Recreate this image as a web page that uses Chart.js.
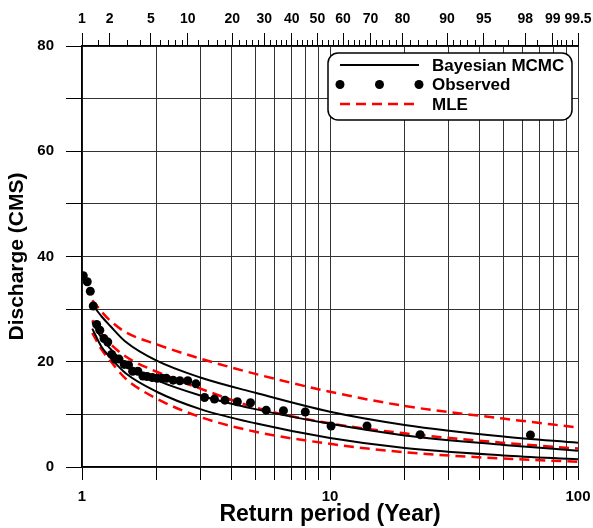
<!DOCTYPE html>
<html>
<head>
<meta charset="utf-8">
<script src="https://cdn.jsdelivr.net/npm/chart.js@4.4.1/dist/chart.umd.min.js"></script>
<style>
  html, body { margin: 0; padding: 0; background: #fff; }
  #wrap { width: 593px; height: 528px; }
</style>
</head>
<body>
<div id="wrap"><canvas id="freqChart" width="593" height="528"></canvas></div>
<script>
const curveT = [1.1, 1.2, 1.3, 1.5, 2, 3, 5, 10, 20, 50, 100];

// Bayesian MCMC: upper bound, median, lower bound (CMS)
const bayesUpper  = [30.9, 28.6, 26.8, 23.8, 20.2, 17.0, 14.1, 10.5, 8.0, 5.8, 4.6];
const bayesMedian = [27.5, 24.5, 22.5, 19.6, 16.5, 13.6, 11.0, 8.2, 6.0, 4.2, 3.1];
const bayesLower  = [26.3, 22.8, 20.8, 17.8, 14.3, 11.0, 8.3, 5.5, 3.6, 2.2, 1.45];

// MLE: upper bound, estimate, lower bound (CMS)
const mleUpper  = [31.7, 29.5, 27.8, 25.6, 23.3, 20.6, 17.7, 14.3, 11.6, 9.2, 7.5];
const mleMedian = [27.9, 25.3, 23.4, 21.0, 18.1, 14.9, 11.3, 8.3, 6.4, 4.6, 3.5];
const mleLower  = [25.5, 22.3, 20.2, 16.8, 13.0, 9.5, 6.7, 4.4, 2.8, 1.6, 1.0];

// observed (plotting position return period, discharge)
const obsT = [1.012, 1.05, 1.08, 1.11, 1.146, 1.18, 1.227, 1.27, 1.317, 1.36, 1.41, 1.48, 1.54, 1.6, 1.68,
  1.76, 1.83, 1.92, 2.01, 2.1, 2.19, 2.33, 2.48, 2.67, 2.88, 3.12, 3.42, 3.77, 4.23, 4.78,
  5.53, 6.49, 7.95, 10.1, 14.1, 23.1, 64.3];
const obsQ = [36.35, 35.2, 33.4, 30.6, 27.1, 26.0, 24.4, 23.75, 21.4, 20.5, 20.5, 19.5, 19.4, 18.2, 18.2,
  17.3, 17.2, 17.0, 16.85, 16.85, 16.85, 16.5, 16.4, 16.4, 15.8, 13.2, 12.9, 12.7, 12.4, 12.2,
  10.8, 10.7, 10.45, 7.8, 7.8, 6.15, 6.1];

// axis ticks
const xTicks = [1, 2, 3, 4, 5, 6, 7, 8, 9, 10, 20, 30, 40, 50, 60, 70, 80, 90, 100];
const xLabelled = [1, 10, 100];
const probMajor = [1, 2, 5, 10, 20, 30, 40, 50, 60, 70, 80, 90, 95, 98, 99, 99.5];
const probMinor = [1.5, 3, 4, 6, 7, 8, 9, 12, 14, 16, 18, 22, 24, 26, 28, 32, 34, 36, 38,
  42, 44, 46, 48, 52, 54, 56, 58, 62, 64, 66, 68, 72, 74, 76, 78, 82, 84, 86, 88,
  91, 92, 93, 94, 96, 97, 98.5, 99.1, 99.2, 99.3, 99.4];

// inverse standard normal (Acklam) for the probability axis
function normInv(p) {
  const a = [-39.69683028665376, 220.9460984245205, -275.9285104469687, 138.3577518672690, -30.66479806614716, 2.506628277459239];
  const b = [-54.47609879822406, 161.5858368580409, -155.6989798598866, 66.80131188771972, -13.28068155288572];
  const c = [-0.007784894002430293, -0.3223964580411365, -2.400758277161838, -2.549732539343734, 4.374664141464968, 2.938163982698783];
  const d = [0.007784695709041462, 0.3224671290700398, 2.445134137142996, 3.754408661907416];
  const pl = 0.02425;
  let q, r;
  if (p < pl) {
    q = Math.sqrt(-2 * Math.log(p));
    return (((((c[0]*q+c[1])*q+c[2])*q+c[3])*q+c[4])*q+c[5]) / ((((d[0]*q+d[1])*q+d[2])*q+d[3])*q+1);
  }
  if (p > 1 - pl) {
    q = Math.sqrt(-2 * Math.log(1 - p));
    return -(((((c[0]*q+c[1])*q+c[2])*q+c[3])*q+c[4])*q+c[5]) / ((((d[0]*q+d[1])*q+d[2])*q+d[3])*q+1);
  }
  q = p - 0.5; r = q * q;
  return (((((a[0]*r+a[1])*r+a[2])*r+a[3])*r+a[4])*r+a[5])*q / (((((b[0]*r+b[1])*r+b[2])*r+b[3])*r+b[4])*r+1);
}
const zOf = pct => normInv(pct / 100);

const pts = (xs, ys) => xs.map((x, i) => ({ x: x, y: ys[i] }));
const FONT = "'Liberation Sans', Arial, sans-serif";

function curve(label, ys, color, dash) {
  return {
    label: label,
    data: pts(curveT, ys),
    borderColor: color,
    borderWidth: dash ? 2.5 : 2,
    borderDash: dash || [],
    pointRadius: 0,
    fill: false,
    cubicInterpolationMode: 'monotone'
  };
}

// keep the plot edges fixed, labels may hang over
function fixHeight(h) {
  return sc => { sc.height = h; sc.paddingLeft = 0; sc.paddingRight = 0; };
}

// legend drawn inside the plot, top right
const boxLegend = {
  id: 'boxLegend',
  afterDraw(chart) {
    const ctx = chart.ctx, area = chart.chartArea;
    const w = 244, h = 67;
    const left = area.right - 6 - w, top = area.top + 7;
    ctx.save();
    ctx.beginPath();
    ctx.roundRect(left, top, w, h, 10);
    ctx.fillStyle = '#fff';
    ctx.fill();
    ctx.lineWidth = 1.5;
    ctx.strokeStyle = '#000';
    ctx.stroke();

    const seen = [];
    chart.data.datasets.forEach(ds => { if (!seen.find(s => s.label === ds.label)) seen.push(ds); });
    const order = ['Bayesian MCMC', 'Observed', 'MLE'];
    seen.sort((a, b) => order.indexOf(a.label) - order.indexOf(b.label));

    seen.forEach((ds, i) => {
      const y = top + 12 + i * 19.5;
      const x0 = left + 12, x1 = left + 91;
      if (ds.showLine === false) {
        ctx.fillStyle = '#000';
        [x0, (x0 + x1) / 2, x1].forEach(x => {
          ctx.beginPath(); ctx.arc(x, y, 4.5, 0, Math.PI * 2); ctx.fill();
        });
      } else {
        ctx.beginPath();
        ctx.setLineDash(ds.borderDash || []);
        ctx.lineWidth = ds.borderWidth;
        ctx.strokeStyle = ds.borderColor;
        ctx.moveTo(x0, y); ctx.lineTo(x1, y); ctx.stroke();
        ctx.setLineDash([]);
      }
      ctx.fillStyle = '#000';
      ctx.font = 'bold 17px ' + FONT;
      ctx.textBaseline = 'middle';
      ctx.textAlign = 'left';
      ctx.fillText(ds.label, left + 104, y + 1);
    });
    ctx.restore();
  }
};

// short minor ticks on the probability axis
const probMinorTicks = {
  id: 'probMinorTicks',
  afterDraw(chart) {
    const sc = chart.scales.x2, ctx = chart.ctx, top = chart.chartArea.top;
    ctx.save();
    ctx.strokeStyle = '#000';
    ctx.lineWidth = 1;
    probMinor.forEach(p => {
      const x = Math.round(sc.getPixelForValue(zOf(p))) + 0.5;
      ctx.beginPath(); ctx.moveTo(x, top); ctx.lineTo(x, top - 6); ctx.stroke();
    });
    ctx.restore();
  }
};

Chart.defaults.font.family = FONT;
Chart.defaults.font.weight = 'bold';
Chart.defaults.color = '#000';

new Chart(document.getElementById('freqChart'), {
  type: 'line',
  data: {
    datasets: [
      {
        label: 'Observed',
        data: pts(obsT, obsQ),
        showLine: false,
        pointRadius: 4.5,
        pointBackgroundColor: '#000',
        pointBorderWidth: 0,
        borderColor: '#000'
      },
      curve('Bayesian MCMC', bayesUpper, '#000'),
      curve('Bayesian MCMC', bayesMedian, '#000'),
      curve('Bayesian MCMC', bayesLower, '#000'),
      curve('MLE', mleUpper, '#ff0000', [10, 6]),
      curve('MLE', mleMedian, '#ff0000', [10, 6]),
      curve('MLE', mleLower, '#ff0000', [10, 6])
    ]
  },
  options: {
    responsive: false,
    animation: false,
    layout: { padding: { left: 0, right: 15, top: 0, bottom: 0 } },
    plugins: {
      legend: { display: false },
      tooltip: { enabled: false }
    },
    scales: {
      x: {
        type: 'logarithmic',
        position: 'bottom',
        min: 1,
        max: 100,
        afterBuildTicks: sc => { sc.ticks = xTicks.map(v => ({ value: v })); },
        afterFit: fixHeight(61),
        ticks: {
          autoSkip: false,
          maxRotation: 0,
          padding: 8,
          font: { size: 15, weight: 'bold' },
          callback: v => xLabelled.includes(v) ? String(v) : ''
        },
        grid: { color: '#333', lineWidth: 1, tickLength: 13, tickColor: '#000' },
        border: { color: '#000', width: 1.5 },
        title: {
          display: true,
          text: 'Return period (Year)',
          font: { size: 23, weight: 'bold' },
          padding: { top: 0, bottom: 0 }
        }
      },
      x2: {
        type: 'linear',
        position: 'top',
        min: zOf(1),
        max: zOf(99.5),
        afterBuildTicks: sc => { sc.ticks = probMajor.map(p => ({ value: zOf(p) })); },
        afterFit: fixHeight(46),
        ticks: {
          autoSkip: false,
          maxRotation: 0,
          padding: 5,
          font: { size: 14, weight: 'bold' },
          callback: (v, i) => String(probMajor[i])
        },
        grid: { drawOnChartArea: false, tickLength: 13, color: '#000' },
        border: { color: '#000', width: 1.5 }
      },
      y: {
        type: 'linear',
        min: 0,
        max: 80,
        afterFit: sc => { sc.width = 82; sc.paddingTop = 0; sc.paddingBottom = 0; },
        ticks: {
          stepSize: 10,
          padding: 12,
          font: { size: 15, weight: 'bold' },
          callback: v => v % 20 === 0 ? String(v) : ''
        },
        grid: { color: '#333', lineWidth: 1, tickLength: 16, tickColor: '#000' },
        border: { color: '#000', width: 1.5 },
        title: {
          display: true,
          text: 'Discharge (CMS)',
          font: { size: 21, weight: 'bold' },
          padding: { top: 5, bottom: 0 }
        }
      }
    }
  },
  plugins: [probMinorTicks, boxLegend]
});
</script>
</body>
</html>
